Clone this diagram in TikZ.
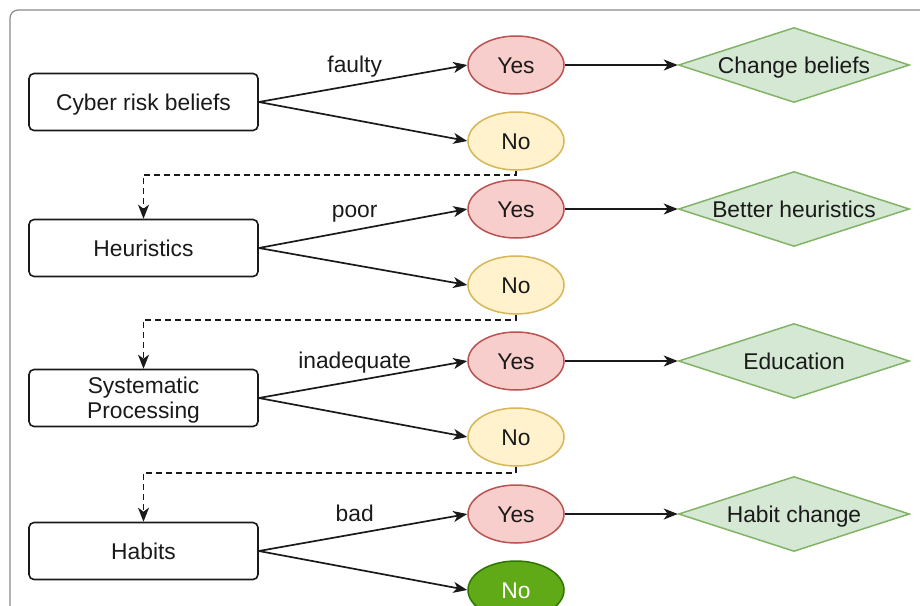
\documentclass[tikz,border=0pt]{standalone}
\usepackage{fontspec}
\setmainfont{Liberation Sans}
\usetikzlibrary{arrows.meta,shapes.geometric}
\definecolor{yesfill}{HTML}{F8CECC}\definecolor{yesdraw}{HTML}{B85450}
\definecolor{nofill}{HTML}{FFF2CC}\definecolor{nodraw}{HTML}{D6B656}
\definecolor{actfill}{HTML}{D5E8D4}\definecolor{actdraw}{HTML}{82B366}
\definecolor{endfill}{HTML}{60A917}\definecolor{enddraw}{HTML}{2D7600}
\definecolor{ink}{HTML}{1A1A1A}
\definecolor{framecol}{HTML}{8A8A8A}
\begin{document}
\begin{tikzpicture}[x=1pt,y=-1pt,
 every node/.style={font=\fontsize{22.8}{26}\selectfont, text=ink},
 oneline/.style={text height=21pt, text depth=5pt},
 factor/.style={draw=ink, line width=1.6pt, rounded corners=5pt, minimum width=229pt, minimum height=57pt, inner sep=0pt, align=center},
 yesnode/.style={ellipse, oneline, draw=yesdraw, fill=yesfill, line width=1.5pt, minimum width=96pt, minimum height=58pt, inner sep=0pt},
 nonode/.style={ellipse, oneline, draw=nodraw, fill=nofill, line width=1.5pt, minimum width=96pt, minimum height=58pt, inner sep=0pt},
 endnode/.style={ellipse, oneline, draw=enddraw, fill=endfill, line width=1.5pt, minimum width=96pt, minimum height=58pt, inner sep=0pt, text=white},
 action/.style={diamond, draw=actdraw, fill=actfill, line width=1.5pt, minimum width=231pt, minimum height=75pt, inner sep=0pt},
 flow/.style={draw=ink, line width=1.7pt, -{Stealth[length=14pt,width=11pt,inset=4pt]}},
 loopback/.style={flow, dash pattern=on 6pt off 4pt},
 lbl/.style={oneline, pos=0.46, above=6pt, inner sep=1pt}
]
\useasboundingbox (0,0) rectangle (920,605);
\begin{scope}
\clip (0,0) rectangle (920,605);
\draw[framecol, line width=1.2pt, rounded corners=8pt] (10,650) -- (10,10) -- (960,10);
\end{scope}

% factors
\node[factor, oneline] (b1) at (143.5,102) {Cyber risk beliefs};
\node[factor, oneline] (b2) at (143.5,248) {Heuristics};
\node[factor] (b3) at (143.5,398) {\raisebox{-3pt}[\height][\depth]{\begin{tabular}{@{}c@{}}Systematic\\[-1pt]Processing\end{tabular}}};
\node[factor, oneline] (b4) at (143.5,551) {Habits};

% yes / no
\node[yesnode] (y1) at (516,65) {Yes};
\node[nonode] (n1) at (516,141) {No};
\node[yesnode] (y2) at (516,209) {Yes};
\node[nonode] (n2) at (516,285) {No};
\node[yesnode] (y3) at (516,361) {Yes};
\node[nonode] (n3) at (516,437) {No};
\node[yesnode] (y4) at (516,514) {Yes};
\node[endnode] (n4) at (516,590) {No};

% actions
\node[action] (a1) at (794,65) {\raisebox{-8pt}[0pt][0pt]{\makebox[0pt]{Change beliefs}}};
\node[action] (a2) at (794,209) {\raisebox{-8pt}[0pt][0pt]{\makebox[0pt]{Better heuristics}}};
\node[action] (a3) at (794,361) {\raisebox{-8pt}[0pt][0pt]{\makebox[0pt]{Education}}};
\node[action] (a4) at (794,514) {\raisebox{-8pt}[0pt][0pt]{\makebox[0pt]{Habit change}}};

% branches
\draw[flow] (b1.east) -- node[lbl]{faulty} (y1.west);
\draw[flow] (b1.east) -- (n1.west);
\draw[flow] (b2.east) -- node[lbl]{poor} (y2.west);
\draw[flow] (b2.east) -- (n2.west);
\draw[flow] (b3.east) -- node[lbl]{inadequate} (y3.west);
\draw[flow] (b3.east) -- (n3.west);
\draw[flow] (b4.east) -- node[lbl]{bad} (y4.west);
\draw[flow] (b4.east) -- (n4.west);

% yes -> action
\draw[flow] (y1.east) -- (a1.west);
\draw[flow] (y2.east) -- (a2.west);
\draw[flow] (y3.east) -- (a3.west);
\draw[flow] (y4.east) -- (a4.west);

% no -> next factor
\draw[loopback] (n1.south) -- ++(0,4) -| (b2.north);
\draw[loopback] (n2.south) -- ++(0,5) -| (b3.north);
\draw[loopback] (n3.south) -- ++(0,6) -| (b4.north);
\end{tikzpicture}
\end{document}
